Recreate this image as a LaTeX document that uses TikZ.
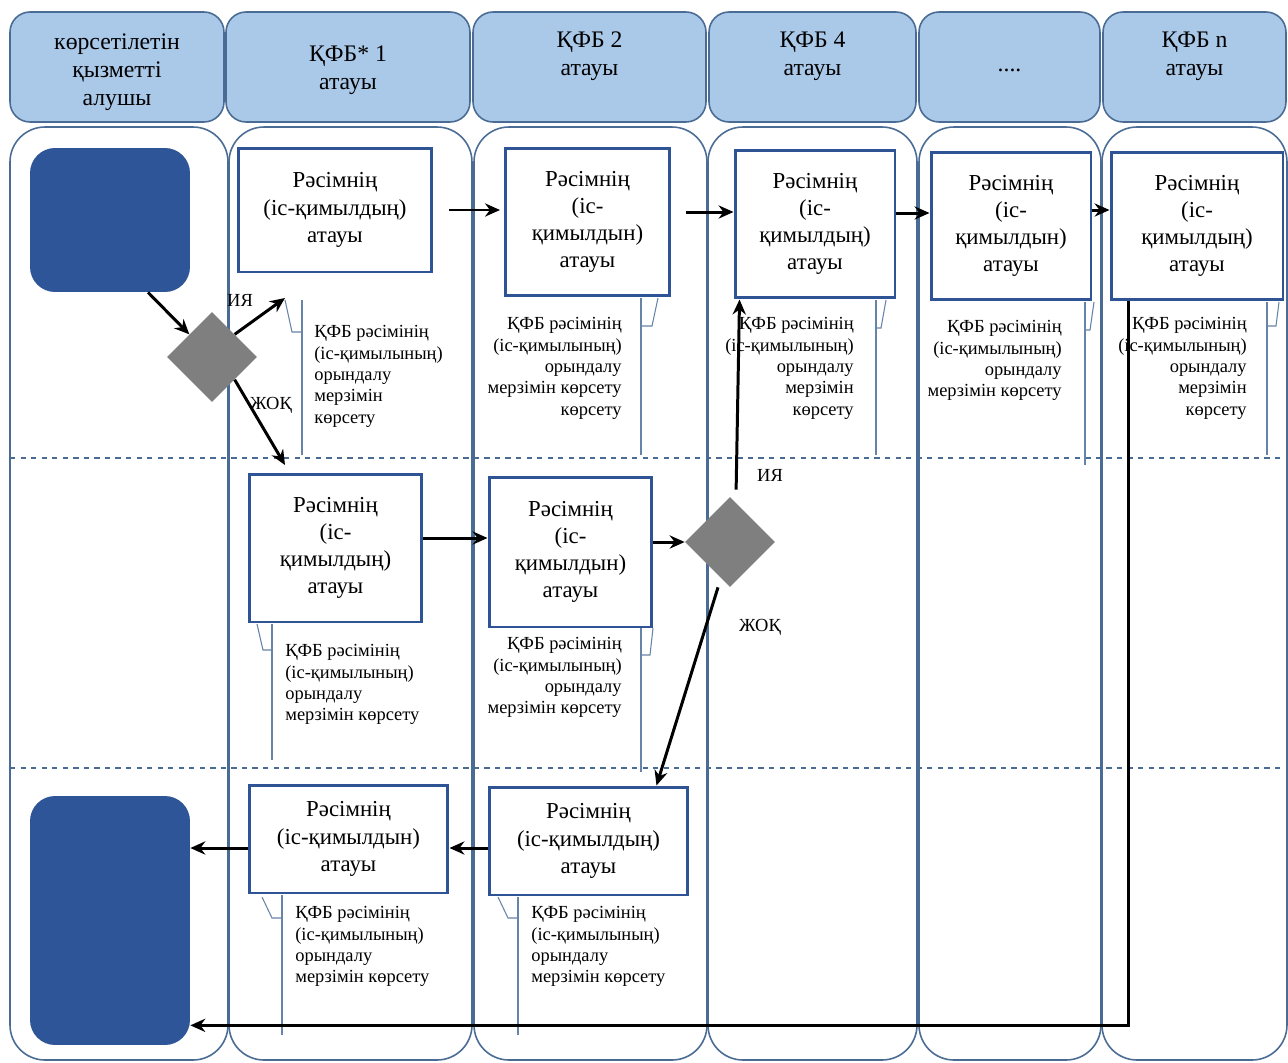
\documentclass[tikz,border=0pt]{standalone}
\usepackage{fontspec}
\setmainfont{Liberation Serif}
\usetikzlibrary{shapes.geometric,arrows.meta}
\definecolor{lanec}{HTML}{4A6C94}
\definecolor{headfill}{HTML}{AAC8E8}
\definecolor{boxc}{HTML}{2F5496}
\definecolor{termc}{HTML}{2E5597}
\definecolor{decc}{HTML}{7F7F7F}
\definecolor{callc}{HTML}{6684A8}
\newcommand{\rasim}{Рәсімнің}
\newcommand{\atau}{атауы}
\newcommand{\kfbtxt}{ҚФБ рәсімінің\\(іс-қимылының)\\орындалу}

\begin{document}
\begin{tikzpicture}[x=0.02cm, y=-0.02cm,
  head/.style={draw=lanec, line width=0.9pt, fill=headfill, rounded corners=0.4cm, minimum height=2.2cm},
  headtxt/.style={align=center, font=\fontsize{13.5}{16}\selectfont},
  lane/.style={draw=lanec, line width=0.9pt, fill=white, rounded corners=0.7cm},
  proc/.style={draw=boxc, line width=1.7pt, fill=white, align=center, font=\fontsize{13}{15.5}\selectfont, inner sep=2pt},
  term/.style={fill=termc, rounded corners=0.5cm, minimum width=3.2cm},
  dec/.style={diamond, fill=decc, minimum size=1.8cm, inner sep=0pt},
  note/.style={font=\fontsize{10.5}{12.2}\selectfont, inner sep=0pt},
  call/.style={draw=callc, line width=0.6pt},
  lbl/.style={font=\fontsize{10.5}{12}\selectfont},
  arr/.style={-{Stealth[length=8.5pt,width=7.5pt]}, line width=1.7pt},
  sep/.style={draw=lanec, dashed, line width=0.7pt}]
\useasboundingbox (0,0) rectangle (1288,1062);

% lanes
\draw[lane] (10,127) rectangle (228,1060);
\draw[lane] (229,127) rectangle (472,1060);
\draw[lane] (474,127) rectangle (707,1060);
\draw[lane] (708,127) rectangle (917,1060);
\draw[lane] (919,127) rectangle (1101,1060);
\draw[lane] (1102,127) rectangle (1287,1060);
\draw[sep] (10,458) -- (1288,458);
\draw[sep] (10,768) -- (1288,768);

% headers
\node[head, minimum width=4.28cm] (h1) at (117,67) {};
\node[head, minimum width=4.88cm] (h2) at (348,67) {};
\node[head, minimum width=4.66cm] (h3) at (589.5,67) {};
\node[head, minimum width=4.14cm] (h4) at (812.5,67) {};
\node[head, minimum width=3.62cm] (h5) at (1009.5,67) {};
\node[head, minimum width=3.66cm] (h6) at (1194.5,67) {};
\node[headtxt] (t1) at (117,72) {көрсетілетін\\қызметті\\алушы};
\node[headtxt] (t2) at (348,70) {ҚФБ* 1\\\atau};
\node[headtxt] (t3) at (589.5,56) {ҚФБ 2\\\atau};
\node[headtxt] (t4) at (812.5,56) {ҚФБ 4\\\atau};
\node[headtxt] (t5) at (1009.5,70) {....};
\node[headtxt] (t6) at (1194.5,56) {ҚФБ n\\\atau};

% callouts
\draw[call] (285,300) -- (292,332) -- (302,332);
\draw[call] (302,300) -- (302,455);
\draw[call] (658,298) -- (652,326) -- (641,326);
\draw[call] (641,298) -- (641,455);
\draw[call] (886,300) -- (881,328) -- (876,328);
\draw[call] (876,300) -- (876,455);
\draw[call] (1094,302) -- (1090,330) -- (1085,330);
\draw[call] (1085,302) -- (1085,465);
\draw[call] (1279,302) -- (1276,326) -- (1267,326);
\draw[call] (1267,302) -- (1267,455);
\draw[call] (257,624) -- (263,650) -- (272,650);
\draw[call] (272,624) -- (272,760);
\draw[call] (653,628) -- (650,655) -- (641,655);
\draw[call] (641,628) -- (641,772);
\draw[call] (262,897) -- (272,918) -- (282,918);
\draw[call] (282,895) -- (282,1035);
\draw[call] (498,897) -- (508,918) -- (518,918);
\draw[call] (518,897) -- (518,1035);

\node[note, anchor=north west, align=left] (a1) at (314,325) {\kfbtxt\\мерзімін\\көрсету};
\node[note, anchor=north east, align=right] (a2) at (622,317) {\kfbtxt\\мерзімін көрсету\\көрсету};
\node[note, anchor=north east, align=right] (a4) at (854,317) {\kfbtxt\\мерзімін\\көрсету};
\node[note, anchor=north east, align=right] (a5) at (1062,320) {\kfbtxt\\мерзімін көрсету};
\node[note, anchor=north east, align=right] (a6) at (1247,317) {\kfbtxt\\мерзімін\\көрсету};
\node[note, anchor=north west, align=left] (b1) at (285,644) {\kfbtxt\\мерзімін көрсету};
\node[note, anchor=north east, align=right] (b2) at (622,637) {\kfbtxt\\мерзімін көрсету};
\node[note, anchor=north west, align=left] (c1) at (295,906) {\kfbtxt\\мерзімін көрсету};
\node[note, anchor=north west, align=left] (c2) at (531,906) {\kfbtxt\\мерзімін көрсету};

% start / end
\node[term, minimum height=2.88cm] (st) at (110,220) {};
\node[term, minimum height=4.98cm] (en) at (110,920.5) {};

% steps
\node[proc, minimum width=3.88cm, minimum height=2.48cm] (A1) at (335,210) {\rasim\\(іс-қимылдың)\\\atau};
\node[proc, minimum width=3.3cm, minimum height=2.96cm] (A2) at (587.5,222) {\rasim\\(іс-\\қимылдын)\\\atau};
\node[proc, minimum width=3.2cm, minimum height=2.96cm] (A4) at (815,224) {\rasim\\(іс-\\қимылдың)\\\atau};
\node[proc, minimum width=3.2cm, minimum height=2.96cm] (A5) at (1011,226) {\rasim\\(іс-\\қимылдын)\\\atau};
\node[proc, minimum width=3.44cm, minimum height=2.96cm] (A6) at (1197,226) {\rasim\\(іс-\\қимылдың)\\\atau};
\node[proc, minimum width=3.46cm, minimum height=2.96cm] (B1) at (335.5,548) {\rasim\\(іс-\\қимылдың)\\\atau};
\node[proc, minimum width=3.26cm, minimum height=3cm] (B2) at (570.5,552) {\rasim\\(іс-\\қимылдын)\\\atau};
\node[proc, minimum width=3.98cm, minimum height=2.16cm] (C1) at (348.5,839) {\rasim\\(іс-қимылдын)\\\atau};
\node[proc, minimum width=3.98cm, minimum height=2.16cm] (C2) at (588.5,841) {\rasim\\(іс-қимылдың)\\\atau};

% decisions
\node[dec] (d1) at (212,357) {};
\node[dec] (d2) at (730,542) {};
\node[lbl] (yes1) at (240,300) {ИЯ};
\node[lbl] (no1) at (271,405) {ЖОҚ};
\node[lbl] (yes2) at (770,475) {ИЯ};
\node[lbl] (no2) at (760,627) {ЖОҚ};
\coordinate (y1) at (285,298);
\coordinate (n1) at (285,465);
\coordinate (a2e) at ([yshift=0.2cm]A2.east);
\coordinate (a4e) at ([yshift=0.22cm]A4.east);
\coordinate (a5e) at ([yshift=0.32cm]A5.east);
\coordinate (b1e) at ([yshift=0.2cm]B1.east);
\coordinate (c2w) at ([yshift=-0.14cm]C2.west);
\coordinate (c1w) at ([yshift=-0.18cm]C1.west);

% arrows
\draw[arr] ([xshift=0.76cm]st.south) -- (d1.north west);
\draw[arr] (d1.north east) -- (y1);
\draw[arr] (d1.south east) -- (n1);
\draw[arr, shorten <=9pt, shorten >=2pt] (A1.east) -- (A1.east -| A2.west);
\draw[arr, shorten <=8pt] (a2e) -- (a2e -| A4.west);
\draw[arr] (a4e) -- (a4e -| A5.west);
\draw[arr] (a5e) -- (a5e -| A6.west);
\draw[arr] (b1e) -- (b1e -| B2.west);
\draw[arr] (B2.east |- d2.west) -- (d2.west);
\draw[arr, shorten <=4pt] ([xshift=0.12cm]d2.north) -- ([xshift=0.12cm]A4.south west);
\draw[arr] ([xshift=-0.24cm]d2.south) -- ([xshift=-0.66cm]C2.north east);
\draw[arr] (c2w) -- (c2w -| C1.east);
\draw[arr] (c1w) -- (c1w -| en.east);
\draw[arr] ([xshift=0.38cm]A6.south west) |- ([yshift=0.4cm]en.south east);
\end{tikzpicture}
\end{document}
